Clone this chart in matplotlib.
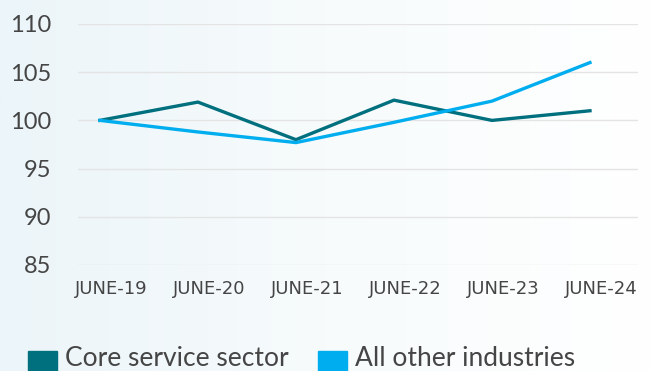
import numpy as np
import matplotlib.pyplot as plt
import matplotlib.transforms as mtransforms
from matplotlib.patches import Rectangle
from matplotlib.colors import LinearSegmentedColormap

# Index values (June 2019 = 100)
periods = ["JUNE-19", "JUNE-20", "JUNE-21", "JUNE-22", "JUNE-23", "JUNE-24"]
core_service = [100, 101.9, 98, 102.1, 100, 101]
other_industries = [100, 98.8, 97.7, 99.8, 102, 106]
y_ticks = [85, 90, 95, 100, 105, 110]
series_names = ["Core service sector", "All other industries"]

teal = "#00707f"
sky = "#00aeef"
text_col = "#454545"
W, H = 652, 371

fig = plt.figure(figsize=(W / 100, H / 100), dpi=100)

# soft blue-to-white background wash
bg = fig.add_axes([0, 0, 1, 1], zorder=-10)
cmap = LinearSegmentedColormap.from_list("wash", ["#ecf5f9", "#f7fbfc", "#ffffff"])
grad = np.linspace(0, 1, 256).reshape(1, -1)
bg.imshow(grad, aspect="auto", cmap=cmap, extent=[0, 1, 0, 1])
bg.axis("off")

ax = fig.add_axes([78 / W, 106 / H, 560 / W, 241 / H])
ax.patch.set_alpha(0)

x = np.arange(len(periods))
ax.plot(x, core_service, color=teal, lw=2.4, solid_joinstyle="miter", zorder=3)
ax.plot(x, other_industries, color=sky, lw=2.4, solid_joinstyle="miter", zorder=3)

ax.set_xlim(-0.224, 5.49)
ax.set_ylim(85, 110)
ax.set_yticks(y_ticks)
ax.set_xticks(x)
ax.set_xticklabels(periods, family=["Liberation Sans Narrow", "DejaVu Sans"],
                   fontsize=13, color=text_col)
ax.set_yticklabels([str(v) for v in y_ticks], family=["Lato", "DejaVu Sans"],
                   fontsize=17, color=text_col)
ax.tick_params(axis="y", length=0, pad=19)
ax.tick_params(axis="x", length=0, pad=11)
ax.grid(axis="y", color="#e4e4e4", lw=1)
ax.set_axisbelow(True)
for s in ax.spines.values():
    s.set_visible(False)

# date labels sit a little to the right of their points
shift = mtransforms.ScaledTranslation(11 / 100, 0, fig.dpi_scale_trans)
for lbl in ax.get_xticklabels():
    lbl.set_transform(lbl.get_transform() + shift)

# legend keys along the bottom edge (squares run off the bottom)
key_x = [28, 318]
for kx, col, name in zip(key_x, [teal, sky], series_names):
    fig.patches.append(Rectangle((kx / W, 0), 29 / W, 20 / H, color=col,
                                 transform=fig.transFigure, figure=fig))
    fig.text((kx + 37) / W, 1 - 358 / H, name, ha="left", va="center",
             family=["Lato", "DejaVu Sans"], fontsize=19, color=text_col)

fig.savefig("out.png", dpi=100)
